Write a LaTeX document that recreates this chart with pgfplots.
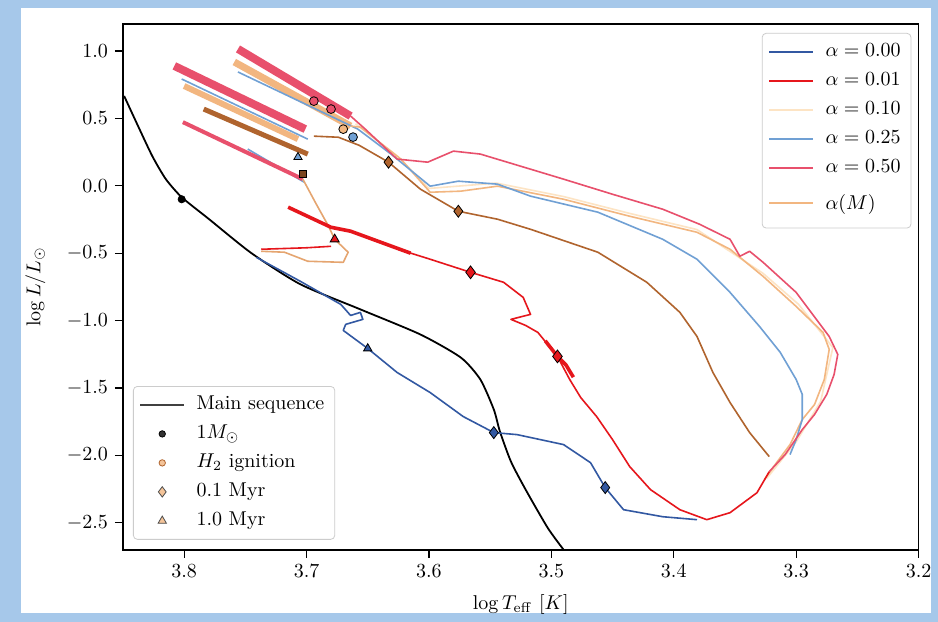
\documentclass[border=0pt]{standalone}
\usepackage{pgfplots}
\pgfplotsset{compat=1.18}

\definecolor{frameblue}{RGB}{166,200,234}
\definecolor{azero}{RGB}{50,88,162}
\definecolor{aone}{RGB}{230,22,28}
\definecolor{aten}{RGB}{253,228,196}
\definecolor{aquart}{RGB}{112,160,212}
\definecolor{ahalf}{RGB}{232,80,108}
\definecolor{amass}{RGB}{242,182,128}
\definecolor{brownt}{RGB}{176,100,46}

\pgfplotsset{
  trk/.style={line width=0.8pt, line join=round, forget plot},
  mk/.style={only marks, forget plot, draw=black, line width=0.4pt},
  legline/.style={legend image code/.code={\draw[mark repeat=2,mark phase=2,##1] plot coordinates {(0pt,0pt) (11pt,0pt) (22pt,0pt)};}},
  legbox/.style={legend cell align=left,
    legend style={draw=black!20, rounded corners=2pt, fill=white, fill opacity=0.8, text opacity=1,
      inner xsep=3pt, inner ysep=2pt, row sep=0pt, column sep=3.5pt,
      nodes={inner sep=2.2pt, text height=7.5pt, text depth=2.6pt}}},
}

\begin{document}
\begin{tikzpicture}
% page background with a pale blue frame
\fill[frameblue] (-61.5pt,-36pt) rectangle (407.5pt,275pt);
\fill[white] (-51pt,-31.5pt) rectangle (404pt,271pt);

\begin{axis}[
  at={(0,0)}, anchor=south west,
  scale only axis, width=398pt, height=263pt,
  x dir=reverse,
  xmin=3.2, xmax=3.85, ymin=-2.7, ymax=1.2,
  xtick={3.2,3.3,3.4,3.5,3.6,3.7,3.8},
  ytick={-2.5,-2,-1.5,-1,-0.5,0,0.5,1},
  xticklabel style={/pgf/number format/.cd,fixed,fixed zerofill,precision=1},
  yticklabel style={/pgf/number format/.cd,fixed,fixed zerofill,precision=1},
  tick align=outside, tick pos=left,
  major tick length=4pt,
  tick style={black, line width=0.6pt},
  axis line style={black, line width=0.85pt},
  xlabel={$\log T_{\rm eff}$ [$K$]},
  ylabel={$\log L/L_\odot$},
  xlabel style={at={(axis description cs:0.5,-0.105)}, anchor=center},
  ylabel style={at={(axis description cs:-0.11,0.5)}, anchor=center},
  legline, legbox,
  legend style={at={(axis description cs:0.991,0.983)}, anchor=north east},
]

% ---- thick bands of oscillating tracks (upper left)
\addplot[trk, brownt, line width=2.5pt] coordinates {(3.784,0.569) (3.699,0.235)};
\addplot[trk, amass, line width=3pt] coordinates {(3.800,0.740) (3.707,0.346)};
\addplot[trk, aquart, line width=0.8pt] coordinates {(3.802,0.792) (3.699,0.346)};
\addplot[trk, ahalf, line width=4pt] coordinates {(3.808,0.889) (3.701,0.420)};
\addplot[trk, amass, line width=3.5pt] coordinates {(3.759,0.918) (3.664,0.443)};
\addplot[trk, aquart, line width=0.8pt] coordinates {(3.756,0.844) (3.658,0.420)};
\addplot[trk, ahalf, line width=4pt] coordinates {(3.756,1.015) (3.664,0.517)};
\addplot[trk, aquart, line width=0.8pt] coordinates {(3.748,0.272) (3.702,0.027)};
\addplot[trk, ahalf, line width=2pt] coordinates {(3.801,0.472) (3.703,0.049)};

% ---- main sequence
\addplot[trk, black, line width=0.9pt, smooth, tension=0.4] coordinates {
 (3.849,0.666) (3.838,0.450) (3.826,0.220) (3.815,0.050) (3.802,-0.085)
 (3.780,-0.245) (3.745,-0.500) (3.705,-0.731) (3.656,-0.917) (3.607,-1.103)
 (3.574,-1.274) (3.558,-1.437) (3.547,-1.660) (3.542,-1.823) (3.533,-2.046)
 (3.521,-2.254) (3.503,-2.537) (3.490,-2.700)};

% ---- alpha = 0.00
\addplot[trk, azero] coordinates {
 (3.741,-0.531) (3.705,-0.709) (3.672,-0.880) (3.664,-0.962) (3.656,-0.939)
 (3.654,-0.991) (3.668,-1.028) (3.670,-1.073) (3.660,-1.140) (3.650,-1.207)
 (3.626,-1.385) (3.599,-1.534) (3.572,-1.712) (3.547,-1.831) (3.528,-1.846)
 (3.490,-1.920) (3.468,-2.054) (3.456,-2.239) (3.441,-2.403) (3.409,-2.455)
 (3.381,-2.477)};

% ---- brown track
\addplot[trk, brownt] coordinates {
 (3.694,0.368) (3.674,0.360) (3.657,0.300) (3.633,0.175) (3.607,-0.025)
 (3.576,-0.189) (3.544,-0.248) (3.517,-0.323) (3.462,-0.493) (3.422,-0.716)
 (3.395,-0.939) (3.381,-1.118) (3.368,-1.385) (3.354,-1.608) (3.338,-1.831)
 (3.322,-2.009)};

% ---- alpha = 0.10
\addplot[trk, aten] coordinates {
 (3.660,0.460) (3.625,0.215) (3.600,-0.020) (3.545,0.020) (3.490,-0.080)
 (3.436,-0.205) (3.381,-0.325) (3.327,-0.650) (3.298,-0.880) (3.270,-1.200)
 (3.280,-1.600) (3.300,-1.900) (3.324,-2.170)};

% ---- alpha(M)
\addplot[trk, amass] coordinates {
 (3.664,0.443) (3.656,0.435) (3.623,0.198) (3.599,-0.048) (3.574,-0.040)
 (3.544,-0.003) (3.490,-0.100) (3.436,-0.226) (3.381,-0.345) (3.354,-0.471)
 (3.327,-0.672) (3.300,-0.895) (3.278,-1.088) (3.273,-1.214) (3.277,-1.437)
 (3.285,-1.623) (3.295,-1.734) (3.305,-1.920) (3.316,-2.054) (3.326,-2.180)};
\addplot[trk, amass!80!brownt] coordinates {
 (3.703,0.049) (3.692,-0.137) (3.682,-0.300) (3.677,-0.397) (3.666,-0.493)
 (3.670,-0.568) (3.699,-0.560) (3.718,-0.493) (3.737,-0.486)};

% ---- alpha = 0.25
\addplot[trk, aquart] coordinates {
 (3.658,0.420) (3.631,0.235) (3.599,-0.003) (3.576,0.034) (3.544,0.012)
 (3.517,-0.077) (3.462,-0.196) (3.409,-0.397) (3.381,-0.545) (3.354,-0.791)
 (3.330,-1.043) (3.313,-1.236) (3.300,-1.437) (3.295,-1.548) (3.295,-1.734)
 (3.300,-1.883) (3.305,-1.994)};

% ---- alpha = 0.50
\addplot[trk, ahalf] coordinates {
 (3.664,0.517) (3.652,0.420) (3.639,0.309) (3.626,0.198) (3.601,0.175)
 (3.580,0.257) (3.558,0.235) (3.517,0.123) (3.490,0.049) (3.450,-0.063)
 (3.409,-0.174) (3.379,-0.285) (3.354,-0.397) (3.346,-0.523) (3.338,-0.486)
 (3.327,-0.568) (3.300,-0.791) (3.273,-1.118) (3.266,-1.251) (3.269,-1.400)
 (3.275,-1.548) (3.285,-1.697) (3.295,-1.809) (3.309,-1.994) (3.322,-2.121)};

% ---- alpha = 0.01
\addplot[trk, aone] coordinates {
 (3.715,-0.159) (3.680,-0.308) (3.664,-0.337) (3.625,-0.471) (3.599,-0.545)
 (3.566,-0.642) (3.539,-0.716) (3.523,-0.828) (3.517,-0.954) (3.533,-0.991)
 (3.521,-1.036) (3.511,-1.088) (3.495,-1.266) (3.485,-1.437) (3.476,-1.571)
 (3.463,-1.712) (3.450,-1.883) (3.436,-2.083) (3.419,-2.254) (3.395,-2.403)
 (3.373,-2.477) (3.354,-2.425) (3.332,-2.277) (3.322,-2.121)};
\addplot[trk, aone, line width=1.8pt] coordinates {
 (3.715,-0.159) (3.680,-0.308) (3.664,-0.337) (3.615,-0.500)};
\addplot[trk, aone, line width=1.8pt] coordinates {
 (3.505,-1.150) (3.495,-1.266) (3.488,-1.330) (3.482,-1.420)};
\addplot[trk, aone] coordinates {(3.737,-0.471) (3.700,-0.460) (3.680,-0.449)};

% ---- evolutionary markers
\addplot[mk, mark=*, mark size=1.8pt, fill=black] coordinates {(3.802,-0.100)};
\addplot[mk, mark=*, mark size=2.2pt, fill=ahalf] coordinates {(3.694,0.628) (3.680,0.569)};
\addplot[mk, mark=*, mark size=2.2pt, fill=amass] coordinates {(3.670,0.420)};
\addplot[mk, mark=*, mark size=2.2pt, fill=aquart] coordinates {(3.662,0.361)};
\addplot[mk, mark=diamond*, mark size=3pt, fill=brownt] coordinates {(3.633,0.175) (3.576,-0.189)};
\addplot[mk, mark=triangle*, mark size=2.4pt, fill=aquart] coordinates {(3.707,0.212)};
\addplot[mk, mark=square*, mark size=1.8pt, fill=brownt!70!black] coordinates {(3.703,0.086)};
\addplot[mk, mark=triangle*, mark size=2.6pt, fill=aone] coordinates {(3.677,-0.397)};
\addplot[mk, mark=diamond*, mark size=3.2pt, fill=aone] coordinates {(3.566,-0.642) (3.495,-1.266)};
\addplot[mk, mark=triangle*, mark size=2.4pt, fill=azero] coordinates {(3.650,-1.207)};
\addplot[mk, mark=diamond*, mark size=3pt, fill=azero] coordinates {(3.547,-1.831) (3.456,-2.239)};

% ---- legend of the accretion tracks
\addlegendimage{line width=1pt, azero}
\addlegendentry{$\alpha = 0.00$}
\addlegendimage{line width=1pt, aone}
\addlegendentry{$\alpha = 0.01$}
\addlegendimage{line width=1pt, aten}
\addlegendentry{$\alpha = 0.10$}
\addlegendimage{line width=1pt, aquart}
\addlegendentry{$\alpha = 0.25$}
\addlegendimage{line width=1pt, ahalf}
\addlegendentry{$\alpha = 0.50$}
\addlegendimage{line width=1pt, amass}
\addlegendentry[text height=11.5pt, text depth=5pt]{$\alpha(M)$}
\end{axis}

% second legend: main sequence and marker meaning
\begin{axis}[
  at={(0,0)}, anchor=south west,
  scale only axis, width=398pt, height=263pt,
  hide axis, xmin=0, xmax=1, ymin=0, ymax=1,
  legline, legbox,
  legend style={at={(axis description cs:0.0126,0.019)}, anchor=south west},
]
\addlegendimage{line width=0.9pt, black!75}
\addlegendentry{Main sequence}
\addlegendimage{only marks, mark=*, mark size=1.6pt, black}
\addlegendentry{$1 M_\odot$}
\addlegendimage{only marks, mark=*, mark size=1.6pt, draw=brownt, fill=amass}
\addlegendentry{$H_2$ ignition}
\addlegendimage{only marks, mark=diamond*, mark size=2.6pt, draw=black!70, fill=amass}
\addlegendentry{0.1 Myr}
\addlegendimage{only marks, mark=triangle*, mark size=2.4pt, draw=black!70, fill=amass}
\addlegendentry{1.0 Myr}
\end{axis}
\end{tikzpicture}
\end{document}
